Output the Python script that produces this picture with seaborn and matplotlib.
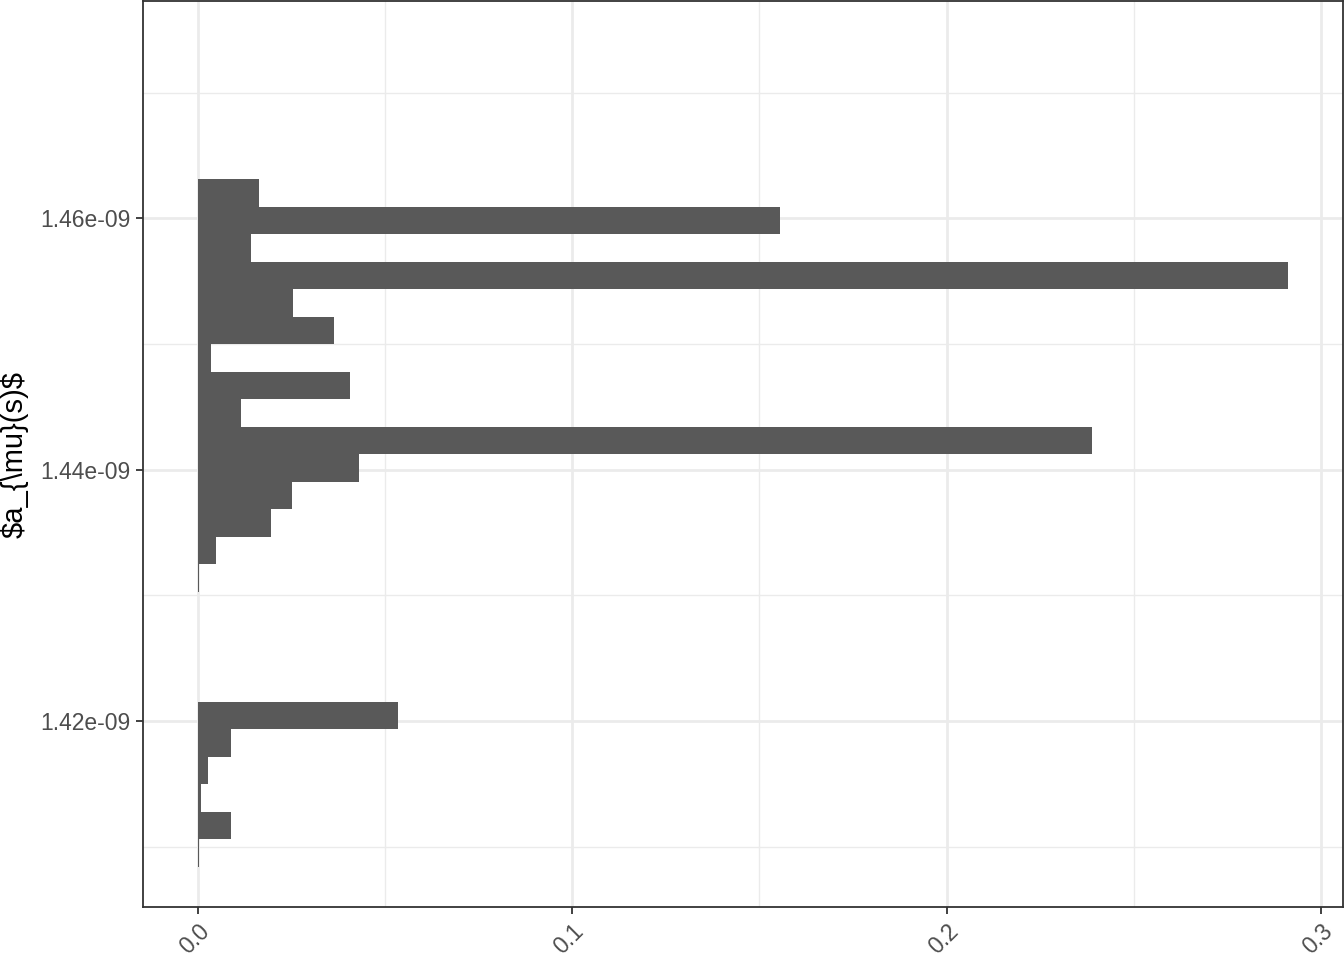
import numpy as np
import pandas as pd
import matplotlib
matplotlib.use("Agg")
import matplotlib.pyplot as plt
from matplotlib.ticker import FixedLocator, FuncFormatter
import seaborn as sns

# histogram bins of a_mu(s), bottom to top
bin_lo = 1.408405e-09
bin_hi = 1.463127e-09
n_bins = 25
proportion = [0.0003, 0.0088, 0.0008, 0.0027, 0.0088, 0.0536,
              0.0, 0.0, 0.0, 0.0,
              0.0003, 0.0048, 0.0195, 0.0251, 0.0432, 0.2389, 0.0117,
              0.0408, 0.0037, 0.0363, 0.0256, 0.2912, 0.0144, 0.1555, 0.0163]

y_major = [1.42e-09, 1.44e-09, 1.46e-09]
y_minor = [1.41e-09, 1.43e-09, 1.45e-09, 1.47e-09]
x_major = [0.0, 0.1, 0.2, 0.3]
x_minor = [0.05, 0.15, 0.25]


def main():
    edges = np.linspace(bin_lo, bin_hi, n_bins + 1)
    df = pd.DataFrame({
        "a_mu": (edges[:-1] + edges[1:]) / 2,
        "prop": proportion,
    })

    sns.set_theme(style="white")
    plt.rcParams["font.family"] = ["Liberation Sans", "DejaVu Sans"]

    fig = plt.figure(figsize=(13.44, 9.6), dpi=100)
    ax = fig.add_axes([143 / 1344, 53 / 960, 1200 / 1344, 906 / 960])

    sns.histplot(data=df, y="a_mu", weights="prop", bins=n_bins,
                 binrange=(bin_lo, bin_hi), ax=ax,
                 color="#595959", alpha=1, linewidth=0, edgecolor="none",
                 zorder=3)

    ax.set_xlim(-0.01456, 0.3058)
    ax.set_ylim(1.40520e-09, 1.47729e-09)

    ax.xaxis.set_major_locator(FixedLocator(x_major))
    ax.xaxis.set_minor_locator(FixedLocator(x_minor))
    ax.yaxis.set_major_locator(FixedLocator(y_major))
    ax.yaxis.set_minor_locator(FixedLocator(y_minor))
    ax.xaxis.set_major_formatter(FuncFormatter(lambda v, p: f"{v:.1f}"))
    ax.yaxis.set_major_formatter(FuncFormatter(lambda v, p: f"{v:.2e}"))

    ax.grid(which="major", color="#EBEBEB", linewidth=2.0, zorder=0)
    ax.grid(which="minor", color="#EBEBEB", linewidth=1.0, zorder=0)
    ax.set_axisbelow(True)

    for s in ax.spines.values():
        s.set_color("#333333")
        s.set_linewidth(1.3)

    ax.tick_params(axis="both", which="major", length=5, width=1.3,
                   color="#333333", labelcolor="#4D4D4D", labelsize=16.5,
                   pad=4, left=True, bottom=True)
    ax.tick_params(axis="both", which="minor", length=0)
    plt.setp(ax.get_xticklabels(), rotation=45, ha="right", va="top",
             rotation_mode="anchor")

    ax.set_xlabel("")
    ax.set_ylabel(r"\$a_{\mu}(s)\$", fontsize=21, color="black", labelpad=8)

    fig.savefig("out.png", dpi=100)
    plt.close(fig)


if __name__ == "__main__":
    main()
